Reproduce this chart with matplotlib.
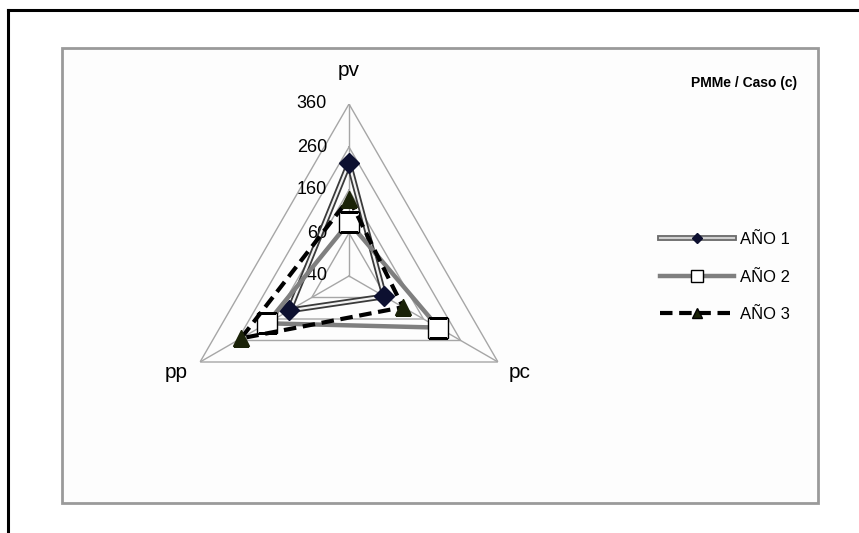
import numpy as np
import matplotlib.pyplot as plt
from matplotlib.lines import Line2D
from matplotlib.patches import Rectangle

plt.rcParams['font.family'] = ['Liberation Sans', 'DejaVu Sans']

categories = ['pv', 'pc', 'pp']
anio1 = [222, 55, 120]
anio2 = [85, 200, 180]
anio3 = [140, 105, 250]
ticks = [-40, 60, 160, 260, 360]
title = 'PMMe / Caso (c)'

W, H = 859, 533
fig = plt.figure(figsize=(W / 100, H / 100), dpi=100)

# black frame (top and left) and grey inner chart box, behind the axes
fig.add_artist(Line2D([8 / W, 1], [1 - 10 / H, 1 - 10 / H], color='black', lw=2.2, zorder=-2))
fig.add_artist(Line2D([8 / W, 8 / W], [1 - 10 / H, 0], color='black', lw=2.2, zorder=-2))
fig.add_artist(Rectangle((62 / W, 1 - 503 / H), (818 - 62) / W, (503 - 48) / H,
                         transform=fig.transFigure, facecolor='#fdfdfd',
                         edgecolor='#9a9a9a', lw=2, zorder=-2))

# radar axes: centre at (349, 276) px, outer radius 172 px
cx, cy, R = 349, 276, 172
ax = fig.add_axes([(cx - R) / W, (H - cy - R) / H, 2 * R / W, 2 * R / H], projection='polar')
ax.set_theta_offset(np.pi / 2)
ax.set_theta_direction(-1)
ax.set_ylim(ticks[0], ticks[-1])
ax.grid(False)
ax.set_xticks([])
ax.set_yticks([])
ax.spines['polar'].set_visible(False)
ax.patch.set_alpha(0)

angles = np.linspace(0, 2 * np.pi, len(categories), endpoint=False)
ang_c = np.append(angles, angles[0])

# triangular grid and spokes
for t in ticks[1:]:
    ax.plot(ang_c, [t] * len(ang_c), color='#a6a6a6', lw=1, zorder=1)
for a in angles:
    ax.plot([a, a], [ticks[0], ticks[-1]], color='#a6a6a6', lw=1, zorder=1)

# value labels along pv axis
for t in ticks:
    ax.annotate(str(t), xy=(0, t), xytext=(-22, 0), textcoords='offset pixels',
                ha='right', va='center', fontsize=13, zorder=1)

# category labels
ax.annotate(categories[0], xy=(0, 360), xytext=(0, 34), textcoords='offset pixels',
            ha='center', va='center', fontsize=15)
ax.annotate(categories[1], xy=(angles[1], 360), xytext=(22, -10), textcoords='offset pixels',
            ha='center', va='center', fontsize=15)
ax.annotate(categories[2], xy=(angles[2], 360), xytext=(-24, -10), textcoords='offset pixels',
            ha='center', va='center', fontsize=15)


def closed(v):
    return np.append(v, v[0])


# AÑO 1: double line with dark diamonds
ax.plot(ang_c, closed(anio1), color='#3a3a3a', lw=4.2, zorder=3, solid_joinstyle='miter')
ax.plot(ang_c, closed(anio1), color='#f2f2f2', lw=1.6, zorder=3, solid_joinstyle='miter')
ax.plot(angles, anio1, ls='none', marker='D', ms=10, color='#0d1030',
        markeredgecolor='#0d1030', zorder=4)

# AÑO 2: solid grey with white squares
ax.plot(ang_c, closed(anio2), color='#7f7f7f', lw=3.2, zorder=5, solid_joinstyle='miter')
ax.plot(angles, anio2, ls='none', marker='s', ms=14, markerfacecolor='white',
        markeredgecolor='black', markeredgewidth=1, zorder=6)

# AÑO 3: black dashed with dark triangles
ax.plot(ang_c, closed(anio3), color='black', lw=3, ls=(0, (3, 1.6)), zorder=7)
ax.plot(angles, anio3, ls='none', marker='^', ms=12, color='#1a2208',
        markeredgecolor='#1a2208', zorder=8)

# legend
h1 = (Line2D([], [], color='#6a6a6a', lw=4.2), Line2D([], [], color='#d0d0d0', lw=1.6),
      Line2D([], [], ls='none', marker='D', ms=5, color='#0d1030'))
h2 = Line2D([], [], color='#7f7f7f', lw=3.2, marker='s', ms=9, markerfacecolor='white',
            markeredgecolor='black', markeredgewidth=1)
h3 = Line2D([], [], color='black', lw=3, ls=(0, (3, 1.6)), marker='^', ms=7,
            markerfacecolor='#1a2208')
fig.legend([h1, h2, h3], ['AÑO 1', 'AÑO 2', 'AÑO 3'], loc='center left',
           bbox_to_anchor=(652 / W, 1 - 277 / H), frameon=False, fontsize=12,
           handlelength=4.4, handletextpad=0.35, labelspacing=1.35, borderpad=0)

fig.text(744 / W, 1 - 83 / H, title, ha='center', va='center', fontsize=10, fontweight='bold')

fig.savefig('out.png', dpi=100)
